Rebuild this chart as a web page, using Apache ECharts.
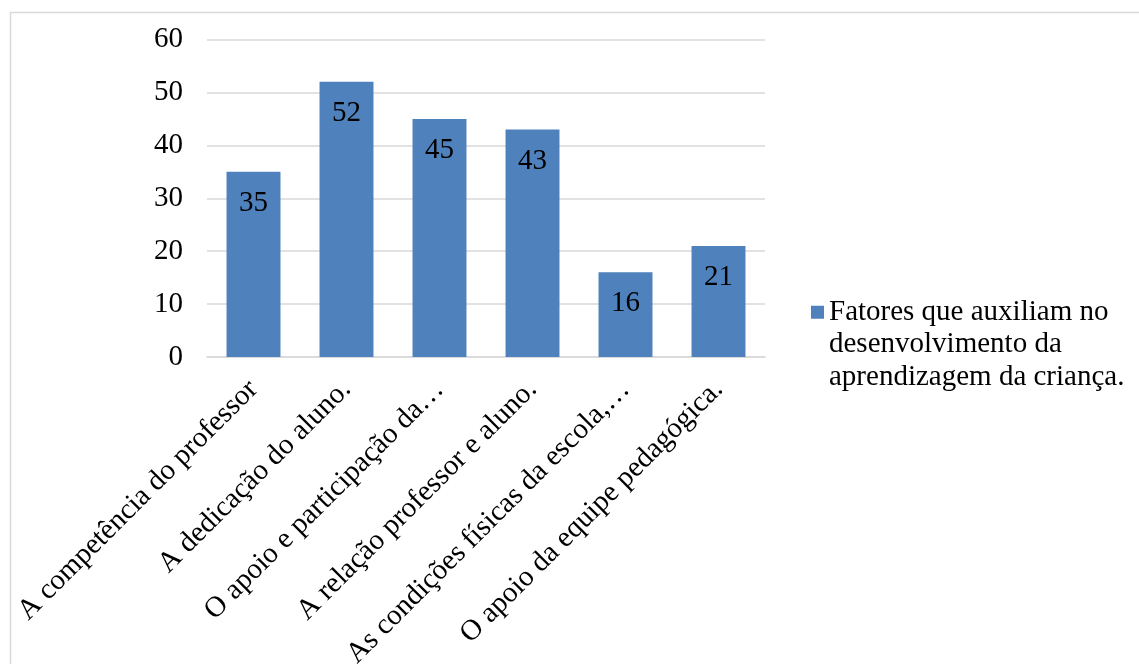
<!DOCTYPE html>
<html>
<head>
<meta charset="utf-8">
<script src="https://cdn.jsdelivr.net/npm/echarts@6/dist/echarts.min.js"></script>
<style>
html,body{margin:0;padding:0;background:#fff;}
#chart{width:1139px;height:664px;}
</style>
</head>
<body>
<div id="chart"></div>
<script>
const categories = [
  'A competência do professor',
  'A dedicação do aluno.',
  'O apoio e participação da…',
  'A relação professor e aluno.',
  'As condições físicas da escola,…',
  'O apoio da equipe pedagógica.'
];
const values = [35, 52, 45, 43, 16, 21];
const seriesName = 'Fatores que auxiliam no desenvolvimento da aprendizagem da criança.';
const legendLines = ['Fatores que auxiliam no', 'desenvolvimento da', 'aprendizagem da criança.'];
const yTicks = { min: 0, max: 60, interval: 10 };

const FONT = '"Liberation Serif", "Times New Roman", serif';
const FS = 29;
const chart = echarts.init(document.getElementById('chart'), null, { renderer: 'canvas' });
chart.setOption({
  backgroundColor: '#fff',
  animation: false,
  textStyle: { fontFamily: FONT },
  graphic: [{
    type: 'rect', left: 8, top: 10, silent: true,
    shape: { x: 0, y: 0, width: 1140, height: 660 },
    style: { fill: 'none', stroke: '#d9d9d9', lineWidth: 1.5 }
  }],
  grid: { left: 207, right: 374, top: 39.5, bottom: 307, containLabel: false, outerBoundsMode: 'none' },
  legend: {
    left: 806, top: 226,
    orient: 'vertical',
    itemWidth: 13, itemHeight: 13,
    icon: 'rect',
    formatter: function () { return '\n\n' + legendLines.join('\n'); },
    textStyle: { fontFamily: FONT, fontSize: FS, color: '#000', lineHeight: 32.5 },
    data: [seriesName]
  },
  xAxis: {
    type: 'category',
    data: categories,
    axisLine: { show: true, lineStyle: { color: '#d9d9d9', width: 1.5 } },
    axisTick: { show: false },
    axisLabel: { rotate: 45, interval: 0, fontSize: FS, color: '#000', fontFamily: FONT, margin: 28 }
  },
  yAxis: {
    type: 'value',
    min: yTicks.min, max: yTicks.max, interval: yTicks.interval,
    axisLine: { show: false },
    axisTick: { show: false },
    splitLine: { lineStyle: { color: '#d9d9d9', width: 1.5 } },
    axisLabel: { fontSize: FS, color: '#000', fontFamily: FONT, margin: 24 }
  },
  series: [{
    name: seriesName,
    type: 'bar',
    data: values,
    barWidth: '58%',
    itemStyle: { color: '#4F81BD' },
    label: { show: true, position: 'insideTop', distance: 17, fontSize: FS, color: '#000', fontFamily: FONT }
  }]
});
</script>
</body>
</html>
